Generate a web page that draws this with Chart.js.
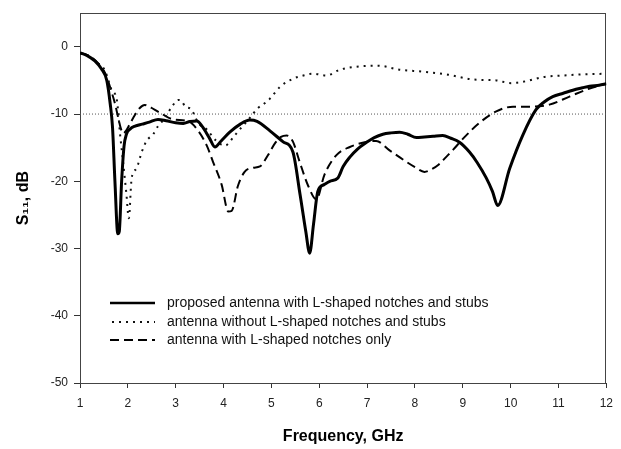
<!DOCTYPE html>
<html>
<head>
<meta charset="utf-8">
<script src="https://cdn.jsdelivr.net/npm/chart.js@4.4.1/dist/chart.umd.min.js"></script>
<style>
  html, body { margin: 0; padding: 0; background: #fff; }
</style>
</head>
<body>
<canvas id="chart-s11" width="621" height="449"></canvas>
<script>
// ── Data ───────────────────────────────────────────────────────────
const FREQ_SOLID = [1.0, 1.15, 1.31, 1.45, 1.56, 1.63, 1.68, 1.73, 1.79, 1.82, 1.87, 1.92, 1.97, 2.05, 2.15, 2.3, 2.45, 2.63, 2.8, 3.0, 3.16, 3.3, 3.44, 3.55, 3.7, 3.82, 3.95, 4.13, 4.35, 4.55, 4.7, 4.97, 5.24, 5.45, 5.6, 5.72, 5.8, 5.88, 5.97, 6.1, 6.22, 6.39, 6.5, 6.64, 6.8, 6.99, 7.15, 7.33, 7.5, 7.68, 7.85, 8.03, 8.2, 8.38, 8.58, 8.75, 8.93, 9.14, 9.3, 9.49, 9.62, 9.73, 9.98, 10.25, 10.53, 10.7, 10.88, 11.1, 11.3, 11.5, 11.65, 11.85, 12.0];
const S11_SOLID  = [-0.9, -1.3, -2.1, -3.3, -5.0, -8.4, -12, -20, -27.8, -27.5, -20, -14.8, -13.0, -12.2, -11.8, -11.5, -11.2, -10.8, -11.0, -11.3, -11.4, -11.1, -11.05, -11.8, -13.5, -14.9, -14.0, -12.7, -11.5, -10.9, -11.1, -12.5, -14.1, -15.65, -22, -27.5, -30.7, -26.4, -21.5, -20.5, -20.0, -19.5, -17.8, -16.4, -15.2, -14.2, -13.5, -13.0, -12.8, -12.7, -13.0, -13.5, -13.4, -13.3, -13.2, -13.6, -14.2, -15.65, -17.2, -19.5, -21.5, -23.6, -18.1, -13.2, -9.35, -8.2, -7.4, -6.9, -6.45, -6.1, -5.86, -5.7, -5.5];

const FREQ_DOTTED = [1.0, 1.2, 1.35, 1.52, 1.66, 1.77, 1.84, 1.9, 1.97, 2.02, 2.08, 2.18, 2.29, 2.39, 2.53, 2.63, 2.75, 2.84, 2.95, 3.05, 3.12, 3.19, 3.33, 3.47, 3.65, 3.85, 4.03, 4.2, 4.3, 4.45, 4.58, 4.72, 4.86, 4.97, 5.18, 5.45, 5.65, 5.87, 6.15, 6.43, 6.85, 7.23, 7.68, 8.17, 8.66, 9.21, 9.7, 10.01, 10.33, 10.67, 11.09, 11.5, 12.0];
const S11_DOTTED  = [-0.9, -1.4, -2.3, -3.5, -6.4, -7.9, -13.2, -17.1, -21.9, -25.5, -19.5, -18.1, -15.65, -14.0, -13.0, -11.8, -10.8, -9.8, -8.6, -7.9, -8.0, -8.8, -9.35, -11.3, -12.3, -14.0, -14.7, -13.5, -12.6, -11.4, -10.3, -9.1, -8.4, -7.7, -5.96, -4.75, -4.3, -4.0, -4.27, -3.4, -2.9, -2.8, -3.4, -3.7, -4.1, -4.85, -5.0, -5.4, -5.1, -4.5, -4.27, -4.1, -4.0];

const FREQ_DASHED = [1.0, 1.2, 1.4, 1.55, 1.65, 1.73, 1.8, 1.86, 1.9, 1.96, 2.04, 2.15, 2.25, 2.35, 2.45, 2.5, 2.67, 2.95, 3.26, 3.47, 3.65, 3.78, 3.96, 4.1, 4.17, 4.3, 4.44, 4.62, 4.76, 4.93, 5.07, 5.2, 5.32, 5.45, 5.59, 5.77, 5.94, 6.11, 6.36, 6.64, 6.95, 7.19, 7.47, 7.82, 8.0, 8.2, 8.35, 8.5, 8.65, 8.8, 9.0, 9.35, 9.7, 10.05, 10.39, 10.81, 11.23, 11.65, 12.0];
const S11_DASHED  = [-0.9, -1.4, -2.6, -4.3, -6.5, -8.4, -10.6, -12.3, -12.9, -12.5, -11.5, -10.1, -9.1, -8.65, -8.9, -9.1, -9.8, -10.8, -11.05, -12.5, -14.7, -17.1, -20.5, -24.5, -24.4, -20.7, -18.6, -18.0, -17.8, -16.1, -14.4, -13.4, -13.2, -14.1, -17.1, -20.7, -22.7, -19.0, -16.1, -14.9, -14.2, -14.0, -15.4, -17.1, -17.9, -18.6, -18.2, -17.5, -16.4, -15.3, -13.7, -11.3, -9.6, -8.9, -8.9, -8.6, -7.4, -6.2, -5.5];

const SERIES_LABELS = [
    "proposed antenna with L-shaped notches and stubs",
    "antenna without L-shaped notches and stubs",
    "antenna with L-shaped notches only"
];
const REF_LEVEL = -10;           // dotted -10 dB reference line
const X_RANGE = [1, 12];
const Y_RANGE = [-50, 5];

const FONT = "Arial, 'Liberation Sans', sans-serif";
const pts = (xs, ys) => xs.map((x, i) => ({ x, y: ys[i] }));

// ── Plugins: frame round the plot + legend inside the plot ─────────
const frame = {
    id: "frame",
    beforeDatasetsDraw(chart) {
        const { ctx, chartArea: a } = chart;
        ctx.save();
        ctx.strokeStyle = "#444";
        ctx.lineWidth = 1;
        ctx.strokeRect(Math.round(a.left) + 0.5, Math.round(a.top) + 0.5,
                       Math.round(a.right - a.left) - 1, Math.round(a.bottom - a.top));
        ctx.restore();
    }
};

const innerLegend = {
    id: "innerLegend",
    afterDatasetsDraw(chart) {
        const { ctx } = chart;
        const rows = [303, 322, 340];
        ctx.save();
        ctx.font = "14px " + FONT;
        ctx.textBaseline = "middle";
        ctx.fillStyle = "#111";
        SERIES_LABELS.forEach((label, i) => {
            const ds = chart.data.datasets[i];
            const y = rows[i];
            ctx.strokeStyle = ds.borderColor;
            ctx.lineWidth = i === 0 ? 2.5 : 2;
            ctx.setLineDash(i === 1 ? [2, 5] : (ds.borderDash || []));
            ctx.beginPath();
            ctx.moveTo(i === 1 ? 112 : 110, y);
            ctx.lineTo(155, y);
            ctx.stroke();
            ctx.setLineDash([]);
            ctx.fillText(label, 167, y);
        });
        ctx.restore();
    }
};

new Chart(document.getElementById("chart-s11"), {
    type: "line",
    data: {
        datasets: [
            {
                label: SERIES_LABELS[0],
                data: pts(FREQ_SOLID, S11_SOLID),
                borderColor: "#000", borderWidth: 3,
                pointRadius: 0, cubicInterpolationMode: "monotone"
            },
            {
                label: SERIES_LABELS[1],
                data: pts(FREQ_DOTTED, S11_DOTTED),
                borderColor: "#111", borderWidth: 2, borderDash: [2, 5],
                pointRadius: 0, cubicInterpolationMode: "monotone"
            },
            {
                label: SERIES_LABELS[2],
                data: pts(FREQ_DASHED, S11_DASHED),
                borderColor: "#000", borderWidth: 2, borderDash: [9, 5],
                pointRadius: 0, cubicInterpolationMode: "monotone"
            },
            {
                label: "ref",
                data: pts(X_RANGE, [REF_LEVEL, REF_LEVEL]),
                borderColor: "#555", borderWidth: 1, borderDash: [1, 2],
                pointRadius: 0
            }
        ]
    },
    options: {
        responsive: false,
        animation: false,
        devicePixelRatio: 1,
        layout: { padding: { left: 0, right: 14, top: 5, bottom: 0 } },
        plugins: {
            legend: { display: false },
            tooltip: { enabled: false }
        },
        scales: {
            x: {
                type: "linear", min: X_RANGE[0], max: X_RANGE[1],
                border: { color: "#333", width: 1 },
                grid: { display: true, drawOnChartArea: false, drawTicks: true, tickLength: 5, color: "#333" },
                ticks: { stepSize: 1, autoSkip: false, maxRotation: 0, padding: 8, color: "#222", font: { family: FONT, size: 12 } },
                title: { display: true, text: "Frequency, GHz", color: "#000", font: { family: FONT, size: 16, weight: "bold" }, padding: { top: 0, bottom: 3 } },
                afterFit(s) { s.height = 66; }
            },
            y: {
                min: Y_RANGE[0], max: Y_RANGE[1],
                border: { color: "#333", width: 1 },
                grid: { display: true, drawOnChartArea: false, drawTicks: true, tickLength: 6, color: "#333" },
                ticks: { stepSize: 10, padding: 6, color: "#222", font: { family: FONT, size: 12 } },
                afterBuildTicks(s) { s.ticks = s.ticks.filter(t => t.value <= 0 && t.value % 10 === 0); },
                title: { display: true, text: "S\u2081\u2081, dB", color: "#000", font: { family: FONT, size: 16, weight: "bold" }, padding: { top: 14, bottom: 0 } },
                afterFit(s) { s.width = 80; }
            }
        }
    },
    plugins: [frame, innerLegend]
});
</script>
</body>
</html>
